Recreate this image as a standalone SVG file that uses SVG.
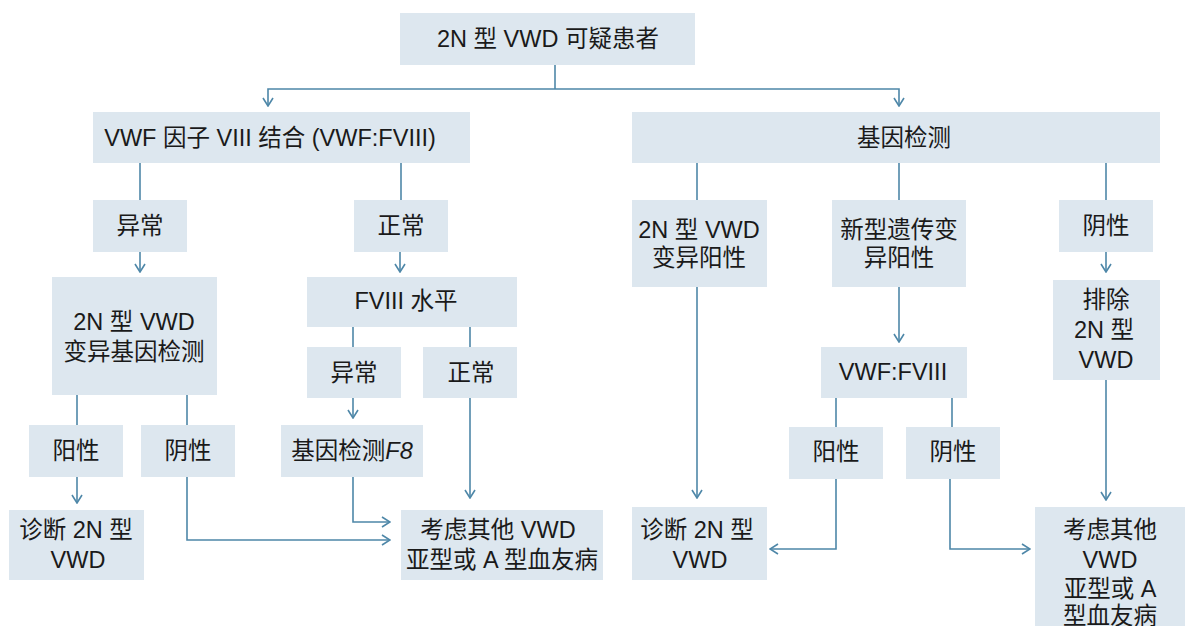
<svg xmlns="http://www.w3.org/2000/svg" width="1185" height="626" viewBox="0 0 1185 626">
<style>
.b{fill:#dde7ef}
.t{font-family:"Liberation Sans","Noto Sans CJK SC",sans-serif;font-size:23.5px;fill:#1a1a1a;text-anchor:middle}
.c{fill:none;stroke:#4e87a8;stroke-width:1.6}
.a{marker-end:url(#ar)}
</style>
<defs>
<marker id="ar" viewBox="0 0 10 12" refX="9" refY="6" markerWidth="10" markerHeight="12" markerUnits="userSpaceOnUse" orient="auto">
<path d="M1,1 L9,6 L1,11" fill="none" stroke="#4e87a8" stroke-width="1.6"/>
</marker>
</defs>
<rect width="1185" height="626" fill="#ffffff"/>
<g id="connectors">
<path class="c" d="M555,65 V89"/>
<path class="c a" d="M555,89 H268 V106"/>
<path class="c a" d="M555,89 H899 V106"/>
<path class="c" d="M140,163 V200"/>
<path class="c" d="M401,163 V200"/>
<path class="c a" d="M140,252 V272"/>
<path class="c a" d="M400,252 V272"/>
<path class="c" d="M353,327 V347"/>
<path class="c" d="M470,327 V347"/>
<path class="c" d="M77,395 V425"/>
<path class="c" d="M187,395 V425"/>
<path class="c a" d="M353,398 V418"/>
<path class="c a" d="M77,477 V503"/>
<path class="c a" d="M187,477 V540 H390"/>
<path class="c a" d="M353,477 V522 H390"/>
<path class="c a" d="M470,398 V498"/>
<path class="c" d="M697,163 V200"/>
<path class="c" d="M899,163 V200"/>
<path class="c" d="M1106,163 V200"/>
<path class="c a" d="M1106,252 V272"/>
<path class="c a" d="M697,287 V498"/>
<path class="c a" d="M899,287 V342"/>
<path class="c" d="M836,398 V427"/>
<path class="c" d="M952,398 V427"/>
<path class="c a" d="M836,479 V549 H770"/>
<path class="c a" d="M950,479 V549 H1030"/>
<path class="c a" d="M1106,380 V500"/>
</g>
<g id="n1"><rect class="b" x="400" y="13" width="295" height="52"/><text class="t" x="548" y="47">2N 型 VWD 可疑患者</text></g>
<g id="n2"><rect class="b" x="93" y="112" width="377" height="51"/><text class="t" x="270" y="146">VWF 因子 VIII 结合 (VWF:FVIII)</text></g>
<g id="n3"><rect class="b" x="632" y="112" width="528" height="51"/><text class="t" x="904" y="146">基因检测</text></g>
<g id="n4"><rect class="b" x="93" y="200" width="94" height="52"/><text class="t" x="140" y="234">异常</text></g>
<g id="n5"><rect class="b" x="354" y="200" width="94" height="52"/><text class="t" x="401" y="234">正常</text></g>
<g id="n6"><rect class="b" x="52" y="277" width="165" height="118"/><text class="t" x="134" y="330">2N 型 VWD</text><text class="t" x="134" y="360">变异基因检测</text></g>
<g id="n7"><rect class="b" x="307" y="277" width="210" height="50"/><text class="t" x="406" y="309">FVIII 水平</text></g>
<g id="n8"><rect class="b" x="307" y="347" width="94" height="51"/><text class="t" x="354" y="381">异常</text></g>
<g id="n9"><rect class="b" x="423" y="347" width="94" height="51"/><text class="t" x="471" y="381">正常</text></g>
<g id="n10"><rect class="b" x="29" y="425" width="94" height="52"/><text class="t" x="76" y="459">阳性</text></g>
<g id="n11"><rect class="b" x="141" y="425" width="94" height="52"/><text class="t" x="188" y="459">阴性</text></g>
<g id="n12"><rect class="b" x="281" y="425" width="142" height="52"/><text class="t" x="352" y="459">基因检测<tspan font-style="italic">F8</tspan></text></g>
<g id="n13"><rect class="b" x="9" y="510" width="135" height="70"/><text class="t" x="76" y="538">诊断 2N 型</text><text class="t" x="78" y="568">VWD</text></g>
<g id="n14"><rect class="b" x="401" y="510" width="202" height="70"/><text class="t" x="498" y="538">考虑其他 VWD</text><text class="t" x="502" y="568">亚型或 A 型血友病</text></g>
<g id="n15"><rect class="b" x="632" y="200" width="135" height="87"/><text class="t" x="699" y="238">2N 型 VWD</text><text class="t" x="699" y="266">变异阳性</text></g>
<g id="n16"><rect class="b" x="832" y="200" width="134" height="87"/><text class="t" x="899" y="238">新型遗传变</text><text class="t" x="899" y="266">异阳性</text></g>
<g id="n17"><rect class="b" x="1059" y="200" width="94" height="52"/><text class="t" x="1106" y="234">阴性</text></g>
<g id="n18"><rect class="b" x="1053" y="280" width="107" height="100"/><text class="t" x="1106" y="308">排除</text><text class="t" x="1104" y="338">2N 型</text><text class="t" x="1106" y="368">VWD</text></g>
<g id="n19"><rect class="b" x="821" y="347" width="146" height="51"/><text class="t" x="893" y="380">VWF:FVIII</text></g>
<g id="n20"><rect class="b" x="789" y="427" width="94" height="52"/><text class="t" x="836" y="460">阳性</text></g>
<g id="n21"><rect class="b" x="906" y="427" width="94" height="52"/><text class="t" x="953" y="460">阴性</text></g>
<g id="n22"><rect class="b" x="632" y="507" width="135" height="73"/><text class="t" x="697" y="538">诊断 2N 型</text><text class="t" x="700" y="568">VWD</text></g>
<g id="n23"><rect class="b" x="1035" y="507" width="150" height="119"/><text class="t" x="1110" y="538">考虑其他</text><text class="t" x="1110" y="568">VWD</text><text class="t" x="1110" y="597">亚型或 A</text><text class="t" x="1110" y="624">型血友病</text></g>
</svg>
